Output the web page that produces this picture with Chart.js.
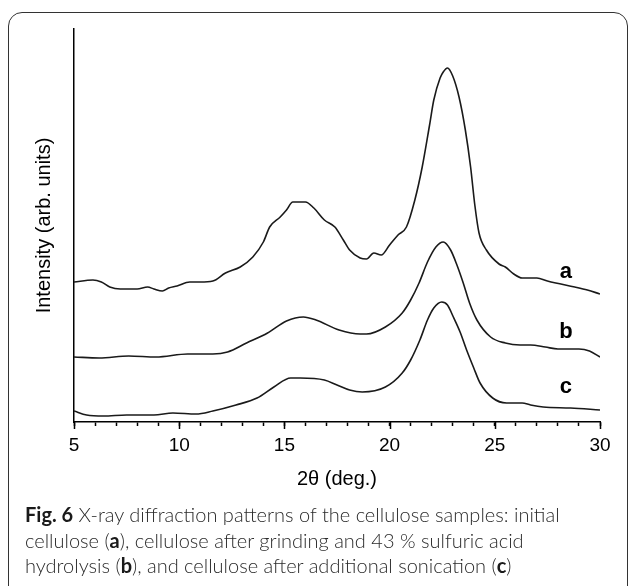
<!DOCTYPE html>
<html>
<head>
<meta charset="utf-8">
<script src="https://cdn.jsdelivr.net/npm/chart.js@4"></script>
<style>
    html, body { margin: 0; padding: 0; background: #fff; }
    body { width: 629px; height: 586px; position: relative; overflow: hidden; }
    #frame {
        position: absolute; left: 8px; top: 12px; width: 620px; height: 600px;
        box-sizing: border-box; border: 1.5px solid #333; border-radius: 14px;
    }
    #chart-container { position: absolute; left: 0; top: 0; width: 629px; height: 586px; }
    #caption {
        position: absolute; left: 25px; top: 502px; white-space: nowrap;
        font-family: Lato, "Open Sans", sans-serif; font-weight: 300; font-size: 20px; line-height: 25.5px;
        color: #2a2a2a;
    }
    #caption b { font-weight: bold; color: #1a1a1a; }
</style>
</head>
<body>
<div id="frame"></div>
<div id="chart-container"><canvas id="xrd-chart"></canvas></div>
<div id="caption">
    <b>Fig. 6</b> X-ray diffraction patterns of the cellulose samples: initial<br>
    cellulose (<b>a</b>), cellulose after grinding and 43 % sulfuric acid<br>
    hydrolysis (<b>b</b>), and cellulose after additional sonication (<b>c</b>)
</div>
<script>
// ── XRD patterns (intensity in arbitrary units) ──────────────────────────────

const thetaA = [5.0, 5.9, 6.3, 6.7, 7.2, 8.0, 8.5, 8.8, 9.2, 9.5, 9.9, 10.5, 11.0, 11.6, 12.2, 12.9,
    13.5, 14.0, 14.3, 14.8, 15.1, 15.4, 16.0, 16.4, 16.9, 17.4, 17.8, 18.1, 18.6, 18.9, 19.25, 19.6,
    20.0, 20.4, 20.8, 21.2, 21.55, 21.9, 22.1, 22.4, 22.55, 22.75, 23.0, 23.3, 23.6, 23.85, 24.05,
    24.25, 24.6, 25.2, 25.5, 25.9, 26.3, 27.0, 27.5, 27.9, 28.8, 29.4, 30.0];
const intensityA = [140, 142, 140, 135, 133, 133, 135, 133, 131, 134, 136, 140, 140, 141, 149, 155,
    165, 180, 195, 205, 212, 220, 220, 214, 202, 195, 182, 172, 164, 163, 169, 167,
    177, 187, 195, 222, 255, 297, 322, 344, 350, 354, 346, 325, 292, 255, 217,
    189, 172, 158, 155, 148, 144, 144, 141, 139, 135, 132, 128];

const thetaB = [5.0, 6.2, 7.6, 8.9, 10.4, 11.6, 12.3, 13.2, 14.2, 15.1, 15.9, 16.5, 17.6, 18.6, 18.9,
    19.8, 20.6, 21.0, 21.4, 21.8, 22.2, 22.55, 22.9, 23.2, 23.5, 23.8, 24.15, 24.8, 25.5, 26.2,
    26.7, 27.4, 28.0, 29.0, 29.5, 30.0];
const intensityB = [65, 64, 66, 65, 68, 68, 70, 79, 89, 101, 105, 102, 92, 88, 88,
    95, 109, 122, 139, 160, 175, 180, 172, 157, 139, 119, 102, 85, 79, 77,
    77, 75, 73, 73, 71, 65];

const thetaC = [5.0, 5.6, 6.4, 7.5, 8.8, 9.7, 10.8, 11.6, 12.7, 13.7, 14.5, 15.3, 15.75, 16.9, 17.5,
    18.1, 18.7, 19.8, 20.6, 21.0, 21.44, 21.8, 22.1, 22.48, 22.75, 23.03, 23.35, 23.66, 24.0, 24.3,
    24.9, 25.56, 26.3, 26.7, 27.3, 28.6, 30.0];
const intensityC = [11, 7, 6, 7, 7, 9, 8, 11, 17, 24, 35, 44, 44, 42, 37,
    32, 30, 35, 49, 62, 82, 102, 114, 120, 117, 105, 90, 72, 54, 39,
    24, 19, 19, 17, 15, 14, 12];

// curve tags and where they sit (2θ, intensity)
const curveTags = ['a', 'b', 'c'];
const tagTheta = 28.38;
const tagIntensity = [150, 90, 35];

const FONT = '"Liberation Sans", Arial, sans-serif';
const INK = '#1a1a1a';
const MINOR_TICK = 4, MAJOR_TICK = 7;

function toPoints(xs, ys) {
    return xs.map((x, i) => ({ x: x, y: ys[i] }));
}

function lineSet(label, xs, ys) {
    return {
        label: label,
        data: toPoints(xs, ys),
        borderColor: INK,
        backgroundColor: 'transparent',
        borderWidth: 1.6,
        pointRadius: 0,
        cubicInterpolationMode: 'monotone'
    };
}

const isMajor = v => Math.abs(v % 5) < 1e-6;

// draws the bold a / b / c next to each pattern
const curveTagPlugin = {
    id: 'curveTags',
    afterDatasetsDraw(chart) {
        const ctx = chart.ctx;
        const xs = chart.scales.x, ys = chart.scales.y;
        ctx.save();
        ctx.font = 'bold 22px ' + FONT;
        ctx.fillStyle = '#000';
        ctx.textAlign = 'center';
        ctx.textBaseline = 'middle';
        curveTags.forEach((t, i) => {
            ctx.fillText(t, xs.getPixelForValue(tagTheta), ys.getPixelForValue(tagIntensity[i]));
        });
        ctx.restore();
    }
};

// Chart.js gives one tick length per axis; lengthen the labelled (major) ones
const majorTickPlugin = {
    id: 'majorTicks',
    afterDraw(chart) {
        const ctx = chart.ctx;
        const xs = chart.scales.x;
        ctx.save();
        ctx.strokeStyle = '#000';
        ctx.lineWidth = 1.5;
        xs.ticks.forEach(t => {
            if (!isMajor(t.value)) return;
            const px = Math.round(xs.getPixelForValue(t.value)) + 0.5;
            ctx.beginPath();
            ctx.moveTo(px, xs.top);
            ctx.lineTo(px, xs.top + MAJOR_TICK);
            ctx.stroke();
        });
        ctx.restore();
    }
};

const ctx = document.getElementById('xrd-chart').getContext('2d');
new Chart(ctx, {
    type: 'line',
    data: {
        datasets: [
            lineSet('a', thetaA, intensityA),
            lineSet('b', thetaB, intensityB),
            lineSet('c', thetaC, intensityC)
        ]
    },
    options: {
        animation: false,
        responsive: true,
        maintainAspectRatio: false,
        layout: { padding: { left: 0, top: 29, right: 29, bottom: 94 } },
        plugins: { legend: { display: false }, tooltip: { enabled: false } },
        scales: {
            x: {
                type: 'linear', position: 'bottom',
                min: 5, max: 30,
                ticks: {
                    stepSize: 1, autoSkip: false, maxRotation: 0, color: '#000', padding: 8,
                    font: { family: FONT, size: 19 },
                    callback: v => isMajor(v) ? v : ''
                },
                grid: {
                    display: true, drawOnChartArea: false, drawTicks: true,
                    tickLength: MINOR_TICK, tickWidth: 1.5, tickColor: '#000'
                },
                border: { display: true, color: '#000', width: 1.5 },
                title: {
                    display: true, text: '2\u03b8 (deg.)', color: '#000',
                    font: { family: FONT, size: 20 }, padding: { top: 0, bottom: 1 }
                },
                afterFit: s => { s.height = 70; }
            },
            y: {
                min: 0, max: 393,
                ticks: { display: false },
                grid: { display: false },
                border: { display: true, color: '#000', width: 1.5 },
                title: {
                    display: true, text: 'Intensity (arb. units)', color: '#000',
                    font: { family: FONT, size: 20 }, padding: { top: 32, bottom: 0 }
                },
                afterFit: s => { s.width = 74; }
            }
        }
    },
    plugins: [curveTagPlugin, majorTickPlugin]
});
</script>
</body>
</html>
